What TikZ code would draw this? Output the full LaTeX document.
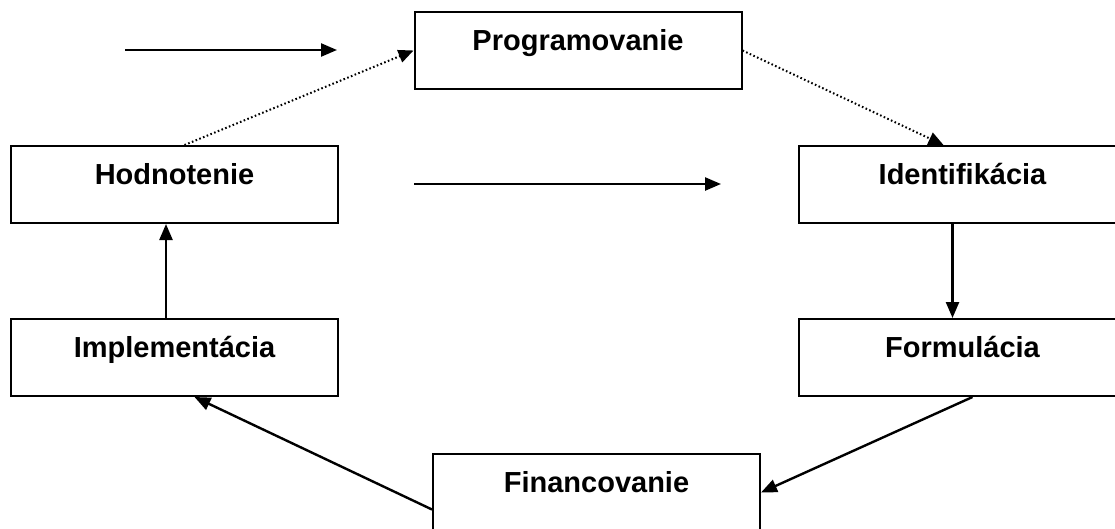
\documentclass[tikz,border=0pt]{standalone}
\usepackage{fontspec}
\setmainfont{Liberation Sans}
\usetikzlibrary{arrows.meta,calc}
\begin{document}
\begin{tikzpicture}[x=1pt,y=-1pt,
  box/.style={draw,line width=2pt,rectangle,inner sep=0pt,
    text width=327pt,align=center,text height=38pt,text depth=39pt,
    font=\fontsize{29}{34}\selectfont\bfseries},
  arr/.style={line width=2.4pt,-{Triangle[length=16pt,width=13pt]}},
  dotarr/.style={line width=2pt,dash pattern=on 1.6pt off 2.4pt,-{Triangle[length=15pt,width=13pt]}}]
\clip (0,0) rectangle (1115,528);
\fill[white] (0,0) rectangle (1115,528);
\node[box] (prog) at (578,50.5) {Programovanie};
\node[box] (hodn) at (174.5,184.5) {Hodnotenie};
\node[box] (iden) at (962.5,184.5) {Identifikácia};
\node[box] (impl) at (174.5,357.5) {Implementácia};
\node[box] (form) at (962.5,357.5) {Formulácia};
\node[box] (fin) at (596.5,492.5) {Financovanie};
\coordinate (a1s) at (125,50);
\coordinate (a1e) at (337,50);
\coordinate (a2s) at (414,184);
\coordinate (a2e) at (721,184);
\draw[arr] (a1s) -- (a1e);
\draw[arr] (a2s) -- (a2e);
\draw[dotarr] ($(hodn.north)+(10,0)$) -- (prog.west);
\draw[dotarr] (prog.east) -- ($(iden.north)+(-19,0)$);
\draw[arr] ($(iden.south)+(-10,0)$) -- ($(form.north)+(-10,0)$);
\draw[arr] ($(form.south)+(10,0)$) -- (fin.east);
\draw[arr] ($(fin.west)+(0,17)$) -- ($(impl.south)+(20,0)$);
\draw[arr] ($(impl.north)+(-8.5,0)$) -- ($(hodn.south)+(-8.5,0)$);
\end{tikzpicture}
\end{document}
